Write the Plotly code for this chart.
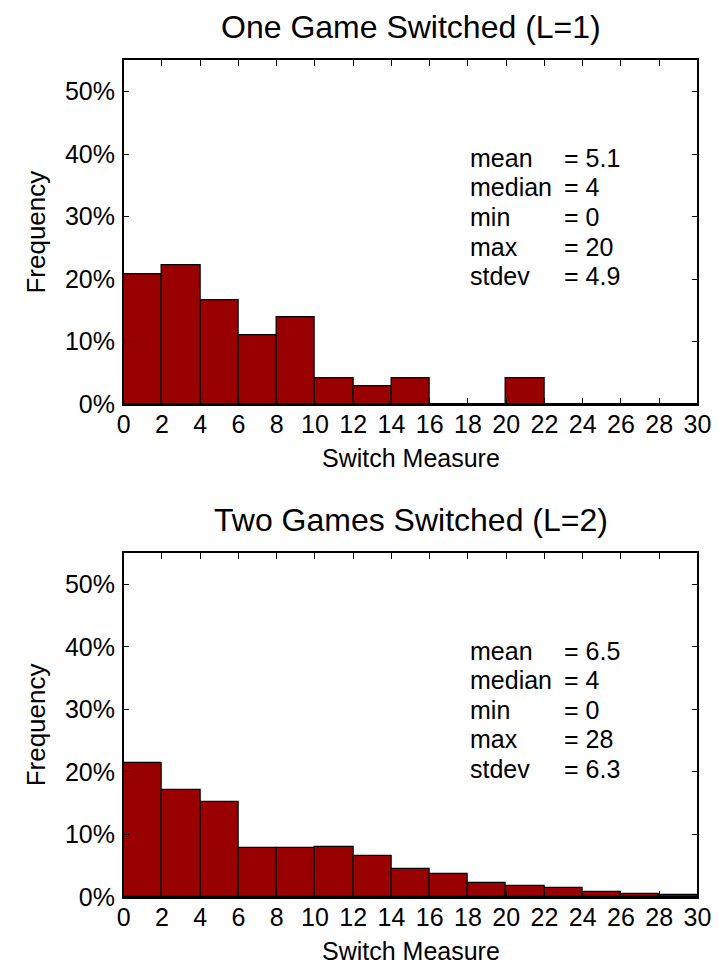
import plotly.graph_objects as go

# ---- data ----
bin_left = [0, 2, 4, 6, 8, 10, 12, 14, 16, 18, 20, 22, 24, 26, 28]
bin_width = 2
freq_L1 = [20.8, 22.2, 16.7, 11.1, 13.9, 4.2, 2.8, 4.2, 0, 0, 4.2, 0, 0, 0, 0]
freq_L2 = [21.4, 17.1, 15.2, 7.8, 7.8, 8.0, 6.6, 4.4, 3.7, 2.2, 1.7, 1.5, 0.8, 0.4, 0.35]
titles = ["One Game Switched (L=1)", "Two Games Switched (L=2)"]
stat_names = ["mean", "median", "min", "max", "stdev"]
stats_L1 = ["5.1", "4", "0", "20", "4.9"]
stats_L2 = ["6.5", "4", "0", "28", "6.3"]
x_ticks = list(range(0, 31, 2))
y_ticks = [0, 10, 20, 30, 40, 50]

W, H = 719, 970
FONT = "Liberation Sans, Arial, Helvetica, sans-serif"
BAR_COLOR = "#990000"

# plot boxes in pixels (left, right, top, bottom)
x_left, x_right = 112, 703
boxes = [(53, 402), (553, 902)]

fig = go.Figure()

series = [freq_L1, freq_L2]
stats = [stats_L1, stats_L2]
centers = [b + bin_width / 2 for b in bin_left]

for i, (vals, (top, bot)) in enumerate(zip(series, boxes)):
    xa = "x" if i == 0 else "x2"
    ya = "y" if i == 0 else "y2"
    fig.add_trace(go.Bar(
        x=centers, y=vals, width=bin_width,
        marker=dict(color=BAR_COLOR, line=dict(color="black", width=1.2)),
        xaxis=xa, yaxis=ya, showlegend=False,
    ))
    axis_common = dict(
        showline=True, linecolor="black", linewidth=1.5, mirror="ticks",
        ticks="inside", ticklen=6, tickwidth=1, tickcolor="black",
        showgrid=False, zeroline=False,
        tickfont=dict(family=FONT, size=25, color="black"),
    )
    xdom = [x_left / W, x_right / W]
    ydom = [1 - bot / H, 1 - top / H]
    fig.layout["xaxis" + ("" if i == 0 else "2")] = dict(
        axis_common, domain=xdom, range=[0, 30], tickmode="array",
        tickvals=x_ticks, ticktext=[str(t) for t in x_ticks],
        anchor=ya, ticklabelstandoff=-3,
    )
    fig.layout["yaxis" + ("" if i == 0 else "2")] = dict(
        axis_common, domain=ydom, range=[0, 55], tickmode="array",
        tickvals=y_ticks, ticktext=[f"{t}%" for t in y_ticks],
        anchor=xa, ticklabelstandoff=2,
    )
    cx = (x_left + x_right) / 2 / W
    # title
    fig.add_annotation(text=titles[i], xref="paper", yref="paper",
                       x=cx, y=1 - (top - 34) / H, xanchor="center", yanchor="middle",
                       showarrow=False, font=dict(family=FONT, size=32, color="black"))
    # x label
    fig.add_annotation(text="Switch Measure", xref="paper", yref="paper",
                       x=cx, y=1 - (bot + 55) / H, xanchor="center", yanchor="middle",
                       showarrow=False, font=dict(family=FONT, size=25, color="black"))
    # y label
    fig.add_annotation(text="Frequency", xref="paper", yref="paper",
                       x=22 / W, y=1 - (top + bot) / 2 / H, xanchor="center", yanchor="middle",
                       textangle=-90, showarrow=False,
                       font=dict(family=FONT, size=26, color="black"))
    # stats
    for k, (nm, val) in enumerate(zip(stat_names, stats[i])):
        yy = 1 - (top + 99 + k * 30) / H
        fig.add_annotation(text=nm, xref="paper", yref="paper", x=467 / W, y=yy,
                           xanchor="left", yanchor="middle", showarrow=False,
                           font=dict(family=FONT, size=25, color="black"))
        fig.add_annotation(text="= " + val, xref="paper", yref="paper", x=563 / W, y=yy,
                           xanchor="left", yanchor="middle", showarrow=False,
                           font=dict(family=FONT, size=25, color="black"))

fig.update_layout(
    width=W, height=H, margin=dict(l=0, r=0, t=0, b=0),
    paper_bgcolor="white", plot_bgcolor="white", bargap=0,
    font=dict(family=FONT, color="black"),
)

fig.write_html("out.html")
